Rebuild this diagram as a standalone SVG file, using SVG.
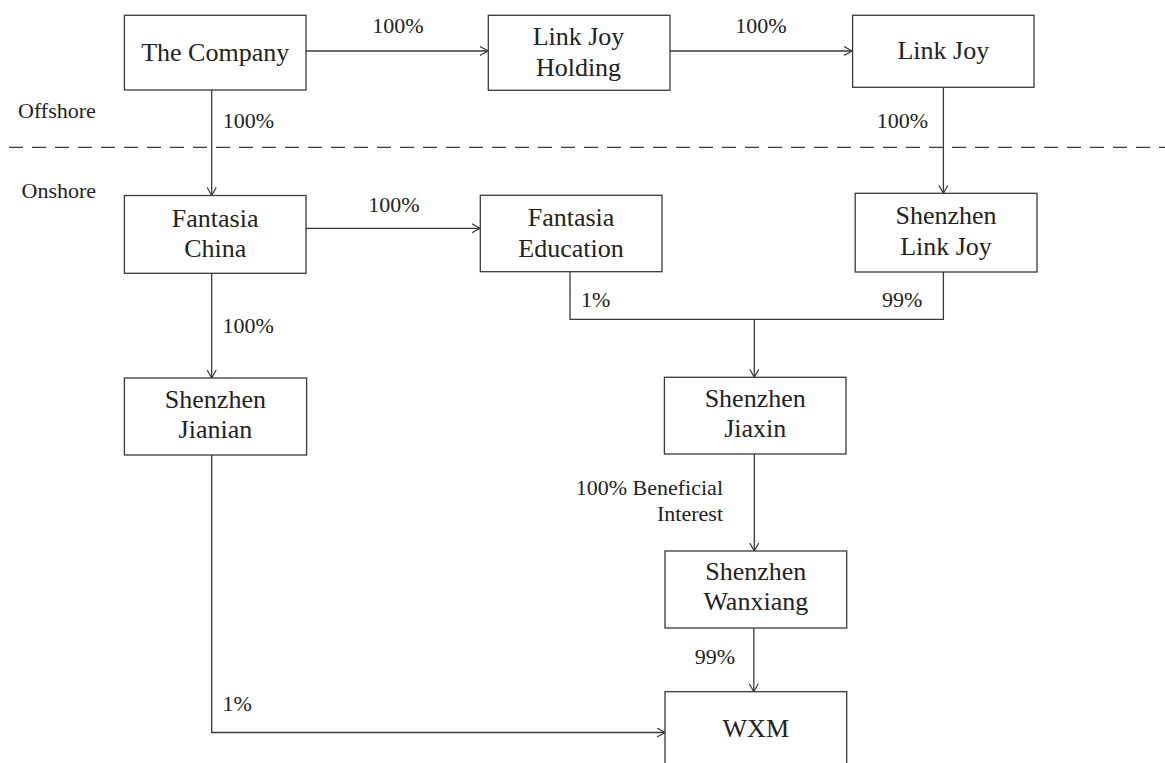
<svg xmlns="http://www.w3.org/2000/svg" width="1165" height="763" viewBox="0 0 1165 763">
<style>
.box{fill:#ffffff;stroke:#3a3a3a;stroke-width:1.3}
.nt{font-family:"Liberation Serif","Times New Roman",serif;font-size:26px;fill:#222;text-anchor:middle}
.lb{font-family:"Liberation Serif","Times New Roman",serif;font-size:22px;fill:#222}
.ln{fill:none;stroke:#3a3a3a;stroke-width:1.3}
.ar{marker-end:url(#arr)}
</style>
<defs>
<marker id="arr" markerUnits="userSpaceOnUse" markerWidth="12" markerHeight="12" refX="8.5" refY="5" orient="auto">
<path d="M0.5,0.5 L8.5,5 L0.5,9.5" fill="none" stroke="#3a3a3a" stroke-width="1.2"/>
</marker>
</defs>
<rect width="1165" height="763" fill="#ffffff"/>
<g id="zones">
<line x1="9" y1="147.3" x2="1165" y2="147.3" stroke="#3a3a3a" stroke-width="1.2" stroke-dasharray="14 9"/>
<text class="lb" x="18" y="118.3">Offshore</text>
<text class="lb" x="21.5" y="198.3">Onshore</text>
</g>
<g id="connectors">
<line class="ln ar" x1="306" y1="51" x2="488" y2="51"/>
<line class="ln ar" x1="670" y1="51" x2="852" y2="51"/>
<line class="ln ar" x1="211.7" y1="90" x2="211.7" y2="195.5"/>
<line class="ln ar" x1="943.4" y1="87.3" x2="943.4" y2="193.3"/>
<line class="ln ar" x1="306" y1="228.3" x2="480" y2="228.3"/>
<line class="ln ar" x1="211.7" y1="273.3" x2="211.7" y2="378"/>
<polyline class="ln" points="570,271.7 570,319.3 943.4,319.3 943.4,272"/>
<line class="ln ar" x1="754.3" y1="319.3" x2="754.3" y2="377.3"/>
<line class="ln ar" x1="754.3" y1="454" x2="754.3" y2="551"/>
<line class="ln ar" x1="753.8" y1="628" x2="753.8" y2="691.7"/>
<polyline class="ln ar" points="211.7,455 211.7,732.5 665,732.5"/>
<text class="lb" x="398" y="33" text-anchor="middle">100%</text>
<text class="lb" x="761" y="33" text-anchor="middle">100%</text>
<text class="lb" x="222.7" y="127.5">100%</text>
<text class="lb" x="928" y="128" text-anchor="end">100%</text>
<text class="lb" x="394" y="211.7" text-anchor="middle">100%</text>
<text class="lb" x="581" y="306.7">1%</text>
<text class="lb" x="922.3" y="306.7" text-anchor="end">99%</text>
<text class="lb" x="222.5" y="333">100%</text>
<text class="lb" x="723" y="495" text-anchor="end">100% Beneficial</text>
<text class="lb" x="723" y="520.7" text-anchor="end">Interest</text>
<text class="lb" x="715" y="664" text-anchor="middle">99%</text>
<text class="lb" x="222.5" y="711">1%</text>
</g>
<g id="the-company">
<rect class="box" x="124.4" y="15.3" width="181.6" height="74.7"/>
<text class="nt" x="215.2" y="60.5">The Company</text>
</g>
<g id="link-joy-holding">
<rect class="box" x="488.3" y="15.3" width="181.7" height="75"/>
<text class="nt" x="578.5" y="45">Link Joy</text>
<text class="nt" x="578.5" y="75.5">Holding</text>
</g>
<g id="link-joy">
<rect class="box" x="852.6" y="15.3" width="181.4" height="72"/>
<text class="nt" x="943.3" y="58.5">Link Joy</text>
</g>
<g id="fantasia-china">
<rect class="box" x="124.4" y="195.5" width="181.6" height="77.8"/>
<text class="nt" x="215.2" y="226.7">Fantasia</text>
<text class="nt" x="215.2" y="257">China</text>
</g>
<g id="fantasia-education">
<rect class="box" x="480.3" y="195.3" width="181.7" height="76.4"/>
<text class="nt" x="571" y="226.2">Fantasia</text>
<text class="nt" x="571" y="256.5">Education</text>
</g>
<g id="shenzhen-link-joy">
<rect class="box" x="855.2" y="193.3" width="181.8" height="78.7"/>
<text class="nt" x="946" y="224.3">Shenzhen</text>
<text class="nt" x="946" y="255">Link Joy</text>
</g>
<g id="shenzhen-jianian">
<rect class="box" x="124.4" y="378" width="182.2" height="77"/>
<text class="nt" x="215.4" y="407.7">Shenzhen</text>
<text class="nt" x="215.4" y="438.3">Jianian</text>
</g>
<g id="shenzhen-jiaxin">
<rect class="box" x="664.4" y="377.3" width="181.6" height="76.7"/>
<text class="nt" x="755.2" y="406.7">Shenzhen</text>
<text class="nt" x="755.2" y="436.7">Jiaxin</text>
</g>
<g id="shenzhen-wanxiang">
<rect class="box" x="665" y="551" width="181.7" height="77"/>
<text class="nt" x="755.8" y="580.4">Shenzhen</text>
<text class="nt" x="755.8" y="610.4">Wanxiang</text>
</g>
<g id="wxm">
<rect class="box" x="665" y="691.7" width="181.7" height="80"/>
<text class="nt" x="755.8" y="736.7">WXM</text>
</g>
</svg>
